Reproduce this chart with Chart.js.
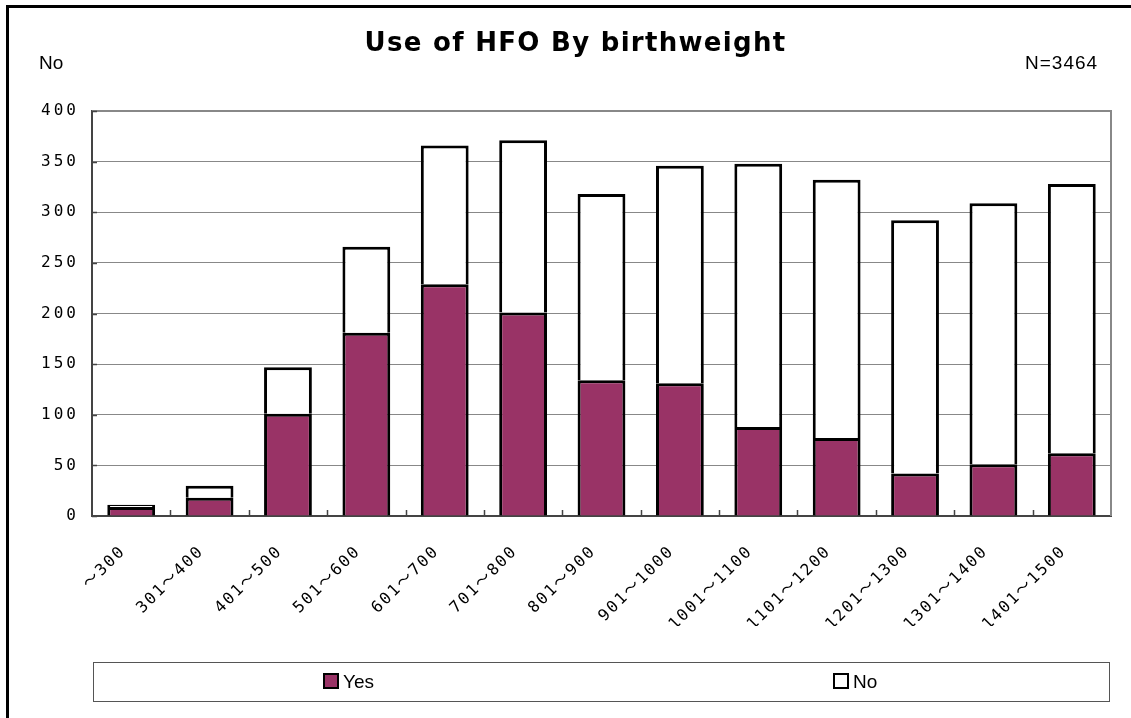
<!DOCTYPE html>
<html>
<head>
<meta charset="utf-8">
<script src="https://cdn.jsdelivr.net/npm/chart.js@4/dist/chart.umd.min.js"></script>
<style>
  html,body{margin:0;padding:0;background:#fff;}
  body{width:1131px;height:718px;position:relative;overflow:hidden;font-family:"Liberation Sans",Arial,sans-serif;}
  #frame{position:absolute;left:6px;top:5px;width:1125px;height:720px;border-top:3px solid #000;border-left:3px solid #000;box-sizing:border-box;}
  #wrap{position:absolute;left:0;top:0;width:1131px;height:718px;}
  #title{position:absolute;left:10px;width:1131px;top:27px;text-align:center;font-family:"DejaVu Sans",sans-serif;font-weight:bold;font-size:26px;letter-spacing:1.3px;color:#000;}
  #ylab{position:absolute;left:39px;top:52px;font-size:19px;color:#000;}
  #nlab{position:absolute;left:1025px;top:52px;font-size:19px;letter-spacing:1px;color:#000;}
  #legend{position:absolute;left:93px;top:662px;width:1017px;height:40px;border:1.5px solid #555;box-sizing:border-box;}
  .item{position:absolute;top:9px;font-size:19px;line-height:20px;color:#000;}
  .sw{display:inline-block;width:12px;height:12px;border:2px solid #000;vertical-align:-1px;margin-right:4px;}
</style>
</head>
<body>
<div id="wrap"><canvas id="c" width="1131" height="718"></canvas></div>
<div id="frame"></div>
<div id="title">Use of HFO By birthweight</div>
<div id="ylab">No</div>
<div id="nlab">N=3464</div>
<div id="legend">
  <div class="item" style="left:229px;"><span class="sw" style="background:#993366"></span>Yes</div>
  <div class="item" style="left:739px;"><span class="sw" style="background:#fff"></span>No</div>
</div>
<script>
const categories = ['～300','301～400','401～500','501～600','601～700','701～800','801～900','901～1000','1001～1100','1101～1200','1201～1300','1301～1400','1401～1500'];
const yesValues = [9, 18, 101, 181, 229, 201, 134, 131, 88, 77, 42, 51, 62];
const noValues  = [2, 12, 46, 85, 137, 170, 184, 215, 260, 255, 250, 258, 266];
const yTicks = [0, 50, 100, 150, 200, 250, 300, 350, 400];

const framePlugin = {
  id: 'framePlugin',
  beforeDraw(chart){ chart.ctx.letterSpacing = '2px'; },
  afterDatasetsDraw(chart){ chart.ctx.letterSpacing = '3px'; },
  afterDraw(chart){
    const ctx = chart.ctx;
    ctx.letterSpacing = '0px';
    const {left, right, top, bottom} = chart.chartArea;
    ctx.save();
    ctx.strokeStyle = '#888';
    ctx.lineWidth = 2;
    ctx.beginPath();
    ctx.moveTo(left, top); ctx.lineTo(right, top); ctx.lineTo(right, bottom);
    ctx.stroke();
    ctx.strokeStyle = '#444';
    ctx.lineWidth = 1.5;
    const xs = chart.scales.x;
    const half = (xs.getPixelForValue(1) - xs.getPixelForValue(0)) / 2;
    ctx.beginPath();
    for (let i = 1; i < categories.length; i++) {
      const x = Math.round(xs.getPixelForValue(i) - half) + 0.5;
      ctx.moveTo(x, bottom); ctx.lineTo(x, bottom - 6);
    }
    const ys = chart.scales.y;
    yTicks.forEach(v => {
      const y = Math.round(ys.getPixelForValue(v)) + 0.5;
      ctx.moveTo(left, y); ctx.lineTo(left + 5, y);
    });
    ctx.stroke();
    ctx.restore();
  }
};

new Chart(document.getElementById('c'), {
  type: 'bar',
  data: {
    labels: categories,
    datasets: [
      { label: 'Yes', data: yesValues, backgroundColor: '#993366', borderColor: '#000', borderWidth: 3, categoryPercentage: 0.61, barPercentage: 1 },
      { label: 'No', data: noValues, backgroundColor: '#ffffff', borderColor: '#000', borderWidth: 3, categoryPercentage: 0.61, barPercentage: 1 }
    ]
  },
  options: {
    responsive: false,
    animation: false,
    devicePixelRatio: 1,
    layout: { padding: { left: 0, top: 111, right: 20, bottom: 92 } },
    plugins: { legend: { display: false }, title: { display: false }, tooltip: { enabled: false } },
    scales: {
      x: {
        stacked: true,
        grid: { display: false, drawTicks: false },
        border: { display: true, color: '#444', width: 2 },
        ticks: { autoSkip: false, minRotation: 45, maxRotation: 45, padding: 26, labelOffset: -8, color: '#000', font: { family: '"DejaVu Sans Mono", "Noto Sans CJK JP", monospace', size: 16 } },
        afterFit(s){ s.height = 110; }
      },
      y: {
        stacked: true,
        min: 0, max: 400,
        afterBuildTicks(s){ s.ticks = yTicks.map(v => ({ value: v })); },
        grid: { color: '#888', lineWidth: 1, drawTicks: false },
        border: { display: true, color: '#444', width: 2 },
        ticks: { z: 1, padding: 13, color: '#000', font: { family: '"DejaVu Sans Mono", monospace', size: 16 } },
        afterFit(s){ s.width = 92; }
      }
    }
  },
  plugins: [framePlugin]
});
</script>
</body>
</html>
